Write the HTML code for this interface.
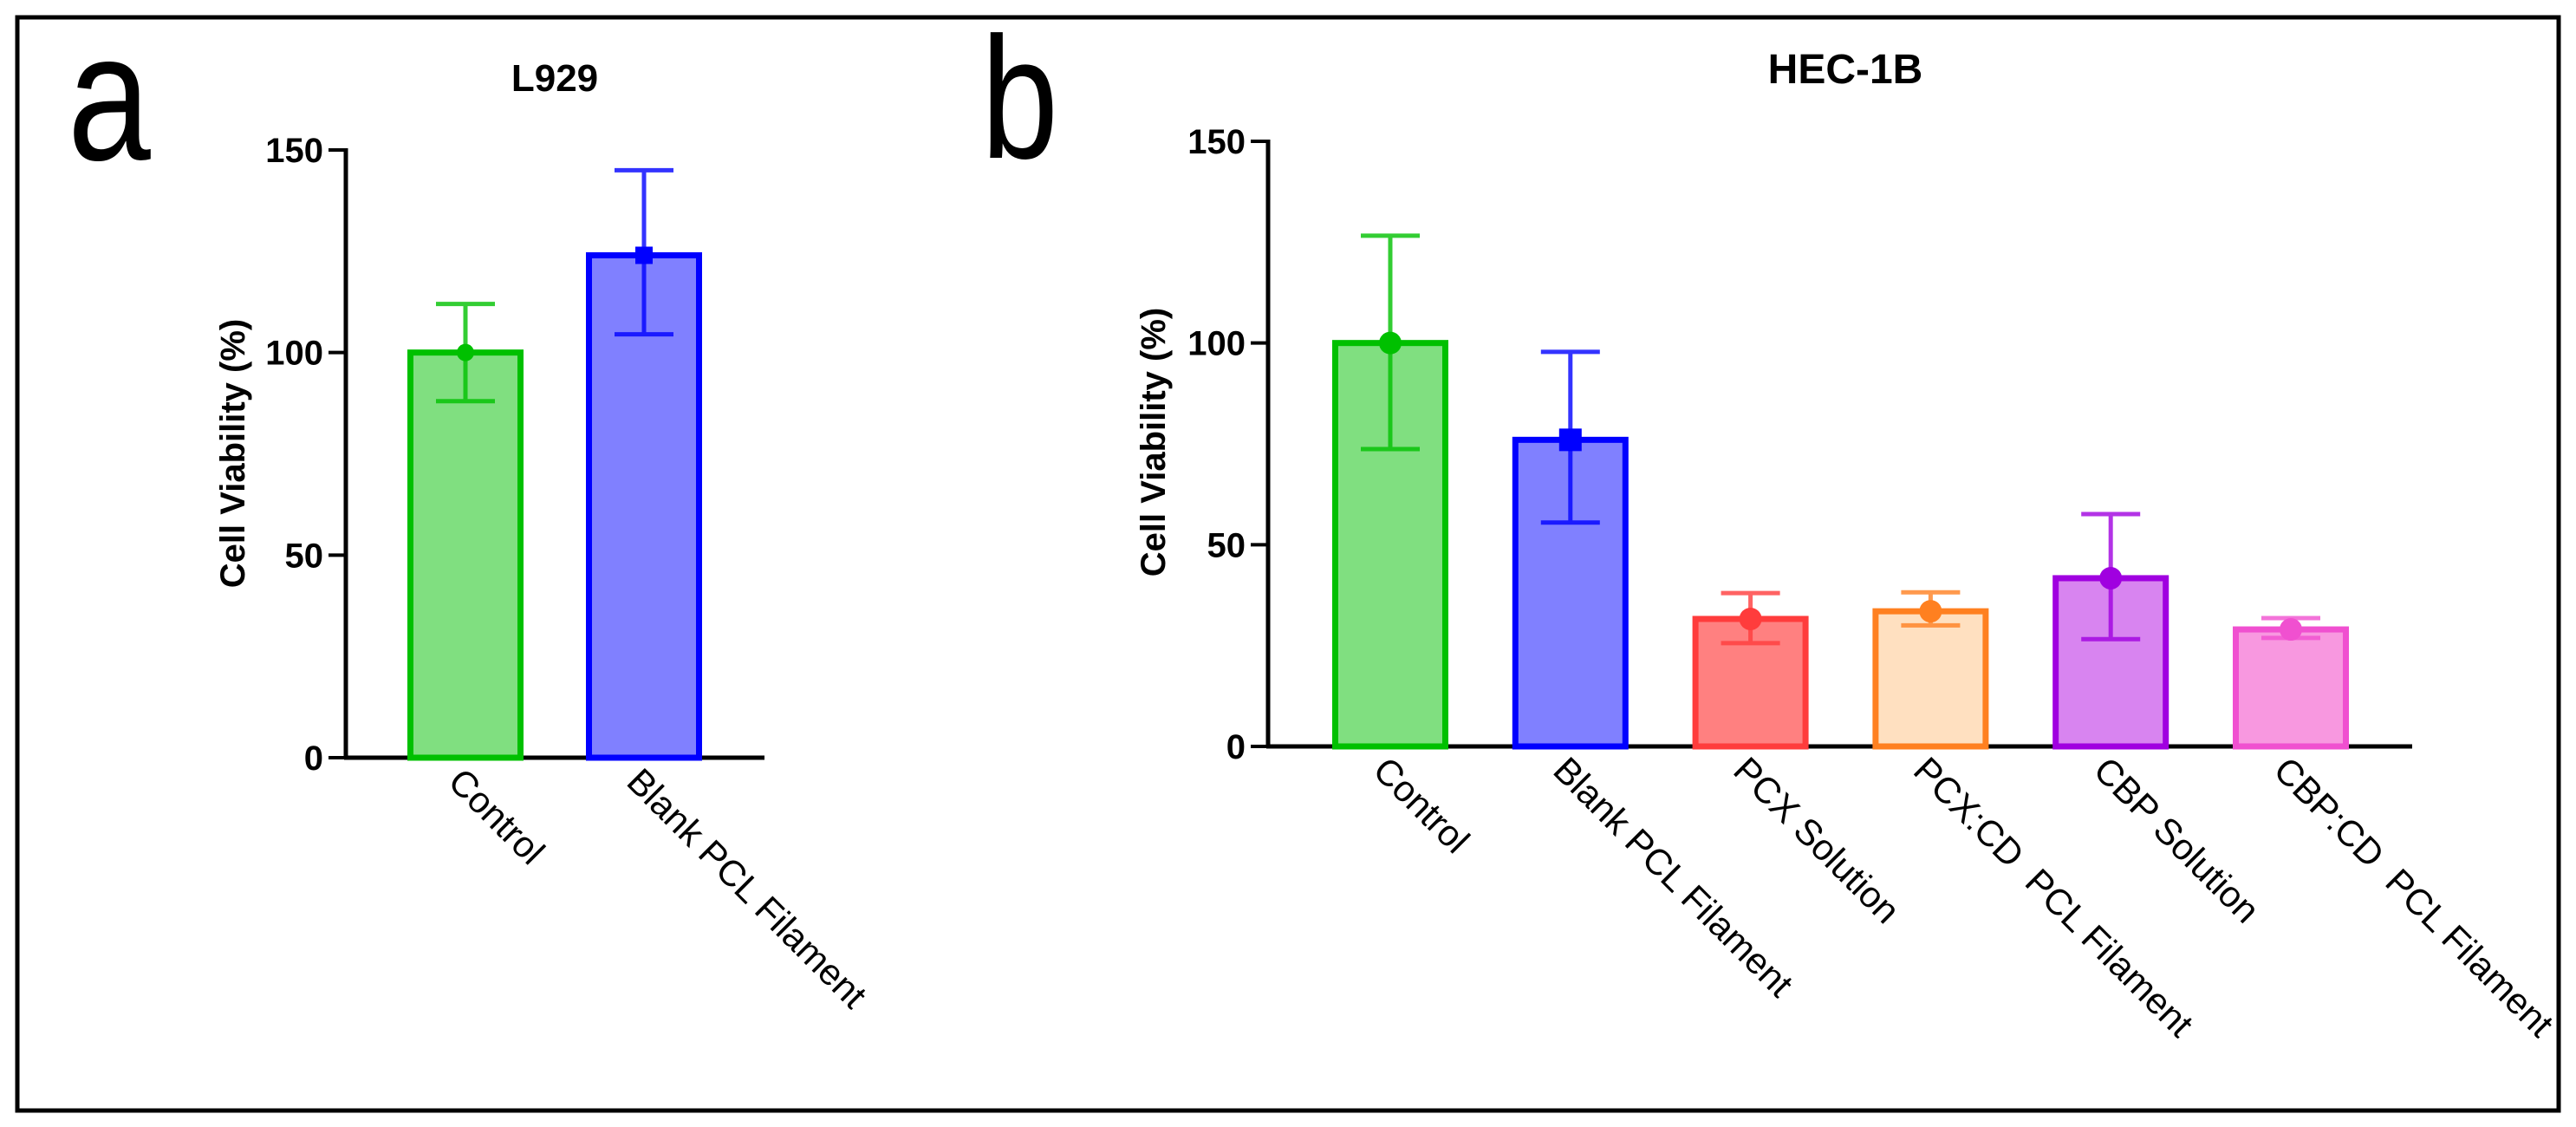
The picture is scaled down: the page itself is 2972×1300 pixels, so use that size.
<!DOCTYPE html>
<html><head><meta charset="utf-8"><style>
body{margin:0;background:#fff}
svg{display:block;font-family:"Liberation Sans",Arial,sans-serif}
</style></head><body>
<svg id="fig" width="2972" height="1300" viewBox="0 0 2972 1300">
<rect x="20" y="20" width="2932" height="1261" fill="none" stroke="#000" stroke-width="5"/>
<text x="0" y="0" font-size="210" transform="translate(78 184) scale(0.82 1)">a</text>
<text x="0" y="0" font-size="200" transform="translate(1132 182) scale(0.8 1)">b</text>
<text x="640" y="105" font-size="44" font-weight="bold" text-anchor="middle">L929</text>
<text x="2129" y="96" font-size="48" font-weight="bold" text-anchor="middle">HEC-1B</text>
<g id="ga"></g>
<g id="gb"></g>
</svg>
<script>
const catsA = ["Control","Blank PCL Filament"];
const meanA = [100,124];
const upA = [112,145];
const loA = [88,104.5];
const catsB = ["Control","Blank PCL Filament","PCX Solution","PCX:CD  PCL Filament","CBP Solution","CBP:CD  PCL Filament"];
const meanB = [100,76,31.6,33.5,41.7,29];
const upB = [126.6,97.8,38,38.2,57.6,31.8];
const loB = [73.7,55.5,25.6,30,26.6,26.9];
const ticks = [0,50,100,150];

const NS="http://www.w3.org/2000/svg";
function mk(p,tag,at){const e=document.createElementNS(NS,tag);for(const k in at)e.setAttribute(k,at[k]);p.appendChild(e);return e;}

function panel(g,cfg){
  const y=v=>cfg.y0-(v/150)*(cfg.y0-cfg.y150);
  const xc=i=>cfg.x1+cfg.bw/2+i*cfg.step;
  let ax=mk(g,'line',{x1:cfg.ax,y1:y(150)-2,x2:cfg.ax,y2:y(0),stroke:'#000','stroke-width':5});
  
  
  let bx=mk(g,'line',{x1:cfg.ax-2,y1:y(0),x2:cfg.axEnd,y2:y(0),stroke:'#000','stroke-width':5});
  
  
  ticks.forEach(t=>{
    let tl=mk(g,'line',{x1:cfg.ax-20,y1:y(t),x2:cfg.ax,y2:y(t),stroke:'#000','stroke-width':4});
    
    
    let tx=mk(g,'text',{x:cfg.ax-26,y:y(t)+14,'font-size':cfg.fs,'font-weight':'bold','text-anchor':'end'});
    tx.textContent=t;
    
    
  });
  let yl=mk(g,'text',{x:0,y:0,'font-size':cfg.fs,'font-weight':'bold','text-anchor':'middle',transform:`translate(${cfg.ylx} ${cfg.yly}) rotate(-90)`});
  yl.textContent='Cell Viability (%)';
  
  
  cfg.cats.forEach((c,i)=>{
    const col=cfg.cols[i];
    const x0=cfg.x1+i*cfg.step;
    let b=mk(g,'rect',{x:x0+3.5,y:y(cfg.mean[i]),width:cfg.bw-7,height:y(0)-y(cfg.mean[i]),fill:col[0],stroke:col[1],'stroke-width':7});
    
    
    const cx=xc(i);
    let e=mk(g,'path',{d:`M${cx},${y(cfg.up[i])}V${y(cfg.lo[i])}M${cx-34},${y(cfg.up[i])}H${cx+34}M${cx-34},${y(cfg.lo[i])}H${cx+34}`,stroke:col[1],'stroke-width':5,fill:'none','stroke-opacity':0.8});
    
    
    let m;
    if(cfg.square&&i===1){m=mk(g,'rect',{x:cx-cfg.mr,y:y(cfg.mean[i])-cfg.mr,width:cfg.mr*2,height:cfg.mr*2,fill:col[1]});}
    else{m=mk(g,'circle',{cx:cx,cy:y(cfg.mean[i]),r:cfg.mr,fill:col[1]});}
    
    
    let t=mk(g,'text',{x:0,y:0,'font-size':cfg.lfs,'xml:space':'preserve',style:'white-space:pre',transform:`translate(${cx-22} ${y(0)+30}) rotate(45)`});
    t.textContent=c;
    
    
  });
}
const cols=[["#80df80","#00c000"],["#8080ff","#0000ff"],["#ff8080","#ff3c3c"],["#ffe0c0","#ff8020"],["#d884f0","#a000e0"],["#f898e0","#f050d0"]];
panel(document.getElementById('ga'),{cats:catsA,mean:meanA,up:upA,lo:loA,cols:cols,y0:874,y150:173,ax:399,axEnd:882,x1:470,bw:134,step:206,fs:40,lfs:42,ylx:282,yly:523,mr:10,square:true});
panel(document.getElementById('gb'),{cats:catsB,mean:meanB,up:upB,lo:loB,cols:cols,y0:861,y150:163,ax:1463,axEnd:2783,x1:1537,bw:134,step:207.8,fs:40,lfs:42,ylx:1344,yly:510,mr:13,square:true});
</script>
</body></html>
